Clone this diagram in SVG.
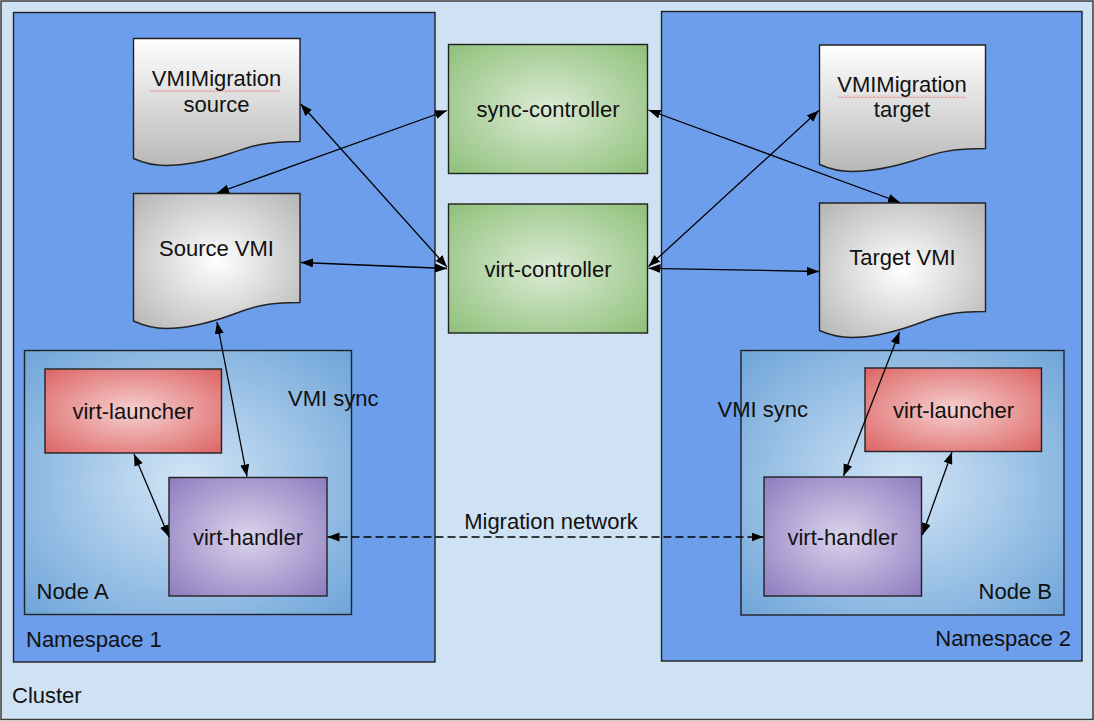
<svg xmlns="http://www.w3.org/2000/svg" width="1094" height="721" viewBox="0 0 1094 721">
<style>
  text { font-family: "Liberation Sans", Arial, sans-serif; font-size: 22px; fill: #111; }
  .mid { text-anchor: middle; }
  .end { text-anchor: end; }
  .box { stroke: #222; stroke-width: 1.4; }
  .conn { fill: none; stroke: #000; stroke-width: 1.3; marker-start: url(#arr); marker-end: url(#arr); }
  .dash { stroke-dasharray: 8 4; }
</style>
<defs>
  <marker id="arr" markerUnits="userSpaceOnUse" markerWidth="13" markerHeight="10" refX="12" refY="4.5" orient="auto-start-reverse" viewBox="0 0 13 10">
    <path d="M0,0 L12,4.5 L0,9 Z" fill="#000"/>
  </marker>
  <radialGradient id="gNode" cx="0.5" cy="0.5" r="0.7">
    <stop offset="0" stop-color="#d3e5f6"/>
    <stop offset="1" stop-color="#6fa5d9"/>
  </radialGradient>
  <radialGradient id="gRed" cx="0.5" cy="0.5" r="0.7">
    <stop offset="0" stop-color="#f6d0d0"/>
    <stop offset="1" stop-color="#dd6464"/>
  </radialGradient>
  <radialGradient id="gPurple" cx="0.5" cy="0.5" r="0.7">
    <stop offset="0" stop-color="#dcd4ec"/>
    <stop offset="1" stop-color="#8e7cbf"/>
  </radialGradient>
  <radialGradient id="gGreen" cx="0.5" cy="0.5" r="0.7">
    <stop offset="0" stop-color="#dbebd5"/>
    <stop offset="1" stop-color="#8fc07a"/>
  </radialGradient>
  <radialGradient id="gGray" cx="0.5" cy="0.5" r="0.7">
    <stop offset="0" stop-color="#ffffff"/>
    <stop offset="1" stop-color="#b4b4b4"/>
  </radialGradient>
  <linearGradient id="gDoc" x1="0" y1="0" x2="0" y2="1">
    <stop offset="0" stop-color="#ffffff"/>
    <stop offset="1" stop-color="#b8b8b8"/>
  </linearGradient>
  <pattern id="squig" width="4" height="3" patternUnits="userSpaceOnUse">
    <path d="M0,2.5 L2,0.5 L4,2.5" fill="none" stroke="#e06060" stroke-width="0.7"/>
  </pattern>
</defs>

<g id="cluster">
  <rect x="1" y="1" width="1092" height="718.5" fill="#cfe2f3" stroke="#3a3a3a" stroke-width="1.5"/>
  <text x="12" y="703">Cluster</text>
</g>

<g id="namespace1">
  <rect class="box" x="13.5" y="12.5" width="421.5" height="649.5" fill="#6d9eeb"/>
  <text x="26" y="646.5">Namespace 1</text>
</g>

<g id="namespace2">
  <rect class="box" x="661.5" y="11.5" width="420.5" height="649.5" fill="#6d9eeb"/>
  <text class="end" x="1071" y="645.5">Namespace 2</text>
</g>

<g id="nodeA">
  <rect class="box" x="24.5" y="350.5" width="327" height="264" fill="url(#gNode)"/>
  <text x="36.5" y="599">Node A</text>
  <text x="288" y="406">VMI sync</text>
</g>

<g id="nodeB">
  <rect class="box" x="741" y="350.5" width="323" height="264.5" fill="url(#gNode)"/>
  <text class="end" x="1052" y="598.5">Node B</text>
  <text class="end" x="808" y="417">VMI sync</text>
</g>

<g id="vmimigration-source">
  <path class="box" fill="url(#gDoc)" d="M133.5,38.5 H300 V141.5 C260,141.5 248,147.5 230,153.5 C208,160.7 183.5,165.5 165.5,165.5 C151.5,165.5 141.5,162 133.5,158.5 Z"/>
  <rect x="150" y="89" width="130" height="3" fill="url(#squig)"/>
  <text class="mid" x="216.5" y="85.5">VMIMigration</text>
  <text class="mid" x="216.5" y="111.5">source</text>
</g>

<g id="source-vmi">
  <path class="box" fill="url(#gGray)" d="M133.5,193.5 H300 V302.5 C260,302.5 248,309 230,315.5 C208,323.3 183.5,328.5 165.5,328.5 C151.5,328.5 141.5,324.6 133.5,321 Z"/>
  <text class="mid" x="216.5" y="256">Source VMI</text>
</g>

<g id="vmimigration-target">
  <path class="box" fill="url(#gDoc)" d="M819.5,45 H985.5 V148.5 C945.5,148.5 933.5,154.3 915.5,160 C893.5,166.9 869.5,171.5 851.5,171.5 C837.5,171.5 827.5,168 819.5,164.5 Z"/>
  <rect x="837.5" y="95" width="128" height="3" fill="url(#squig)"/>
  <text class="mid" x="902" y="91.5">VMIMigration</text>
  <text class="mid" x="902" y="117">target</text>
</g>

<g id="target-vmi">
  <path class="box" fill="url(#gGray)" d="M819.5,203 H985.5 V311.5 C945.5,311.5 933.5,318 915.5,324.5 C893.5,332.3 869.5,337.5 851.5,337.5 C837.5,337.5 827.5,334 819.5,330.5 Z"/>
  <text class="mid" x="902.5" y="265">Target VMI</text>
</g>

<g id="sync-controller">
  <rect class="box" x="448.5" y="44.5" width="199" height="129" fill="url(#gGreen)"/>
  <text class="mid" x="548" y="117">sync-controller</text>
</g>

<g id="virt-controller">
  <rect class="box" x="448.5" y="204" width="199" height="129" fill="url(#gGreen)"/>
  <text class="mid" x="548" y="277">virt-controller</text>
</g>

<g id="virt-launcher-a">
  <rect class="box" x="45" y="369" width="176.5" height="84" fill="url(#gRed)"/>
  <text class="mid" x="133" y="418.5">virt-launcher</text>
</g>

<g id="virt-handler-a">
  <rect class="box" x="169" y="477.5" width="158" height="118.5" fill="url(#gPurple)"/>
  <text class="mid" x="248" y="544.5">virt-handler</text>
</g>

<g id="virt-launcher-b">
  <rect class="box" x="865" y="368" width="176.5" height="83.5" fill="url(#gRed)"/>
  <text class="mid" x="953.5" y="418">virt-launcher</text>
</g>

<g id="virt-handler-b">
  <rect class="box" x="764" y="477" width="157.5" height="119" fill="url(#gPurple)"/>
  <text class="mid" x="842.5" y="544.5">virt-handler</text>
</g>

<g id="connectors">
  <line class="conn" x1="300.7" y1="104" x2="447" y2="267"/>
  <line class="conn" x1="447" y1="110.5" x2="217" y2="193"/>
  <line class="conn" x1="301" y1="262.5" x2="447" y2="268.5"/>
  <line class="conn" x1="217" y1="322" x2="247" y2="476.5"/>
  <line class="conn" x1="134" y1="454" x2="169" y2="537"/>
  <line class="conn dash" x1="327.5" y1="537" x2="763.5" y2="537"/>
  <line class="conn" x1="648.5" y1="110" x2="900" y2="202.5"/>
  <line class="conn" x1="648.5" y1="266.5" x2="818.8" y2="110.5"/>
  <line class="conn" x1="648.5" y1="268.3" x2="818.8" y2="271.5"/>
  <line class="conn" x1="899.5" y1="332" x2="843.5" y2="476"/>
  <line class="conn" x1="952" y1="452" x2="922.3" y2="535"/>
  <text class="mid" x="551" y="529">Migration network</text>
</g>
</svg>
